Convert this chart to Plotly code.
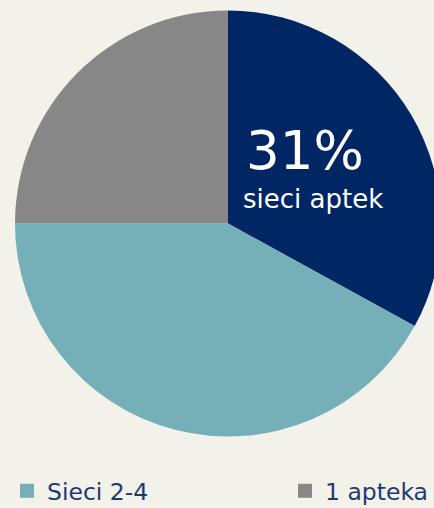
import plotly.graph_objects as go

# slices, clockwise from 12 o'clock
labels = ['Sieci aptek', 'Sieci 2-4', '1 apteka']
values = [33, 42, 25]
colors = ['#002664', '#75afb8', '#878787']

# legend entries shown under the pie
legend_labels = ['Sieci 2-4', '1 apteka']
legend_colors = ['#75afb8', '#878787']

big_label = '31%'
small_label = 'sieci aptek'

# the figure is a little bigger than the 434x508 window: the reference pie
# runs off the right edge and the legend sits right on the bottom edge
W, H = 456, 513
bg = '#f2f1ea'
font = 'Verdana, DejaVu Sans, sans-serif'

fig = go.Figure()
fig.add_trace(
  go.Pie(
    labels=labels,
    values=values,
    marker=dict(colors=colors, line=dict(width=0)),
    sort=False,
    direction='clockwise',
    rotation=0,
    textinfo='none',
    hoverinfo='label+percent',
    showlegend=False,
    domain=dict(x=[15/W, 441/W], y=[1 - 437/H, 1 - 10/H]),
  )
)

# one legend per entry so each can sit where the reference has it
legend_x = [7, 285]
for i, (name, col) in enumerate(zip(legend_labels, legend_colors)):
  fig.add_trace(
    go.Scatter(
      x=[None], y=[None], mode='markers', name=name,
      marker=dict(symbol='square', size=14, color=col),
      legend='legend' if i == 0 else f'legend{i+1}',
    )
  )

fig.add_annotation(
  x=244/W, y=1 - 151/H, xref='paper', yref='paper',
  text=big_label, showarrow=False, xanchor='left', yanchor='middle',
  font=dict(family=font, size=53, color='white'),
)
fig.add_annotation(
  x=241/W, y=1 - 199/H, xref='paper', yref='paper',
  text=small_label, showarrow=False, xanchor='left', yanchor='middle',
  font=dict(family=font, size=26, color='white'),
)

leg_style = dict(
  orientation='h',
  xanchor='left',
  y=0, yanchor='bottom',
  font=dict(family=font, size=23.5, color='#1f3a70'),
  bgcolor='rgba(0,0,0,0)',
)

fig.update_layout(
  width=W,
  height=H,
  margin=dict(l=0, r=0, t=0, b=0),
  paper_bgcolor=bg,
  plot_bgcolor=bg,
  xaxis=dict(visible=False),
  yaxis=dict(visible=False),
  showlegend=True,
  legend=dict(x=legend_x[0]/W, **leg_style),
  legend2=dict(x=legend_x[1]/W, **leg_style),
)

fig.write_html(
  "out.html",
  config={'displayModeBar': False},
  post_script="document.body.style.margin='0';document.body.style.overflow='hidden';",
)
